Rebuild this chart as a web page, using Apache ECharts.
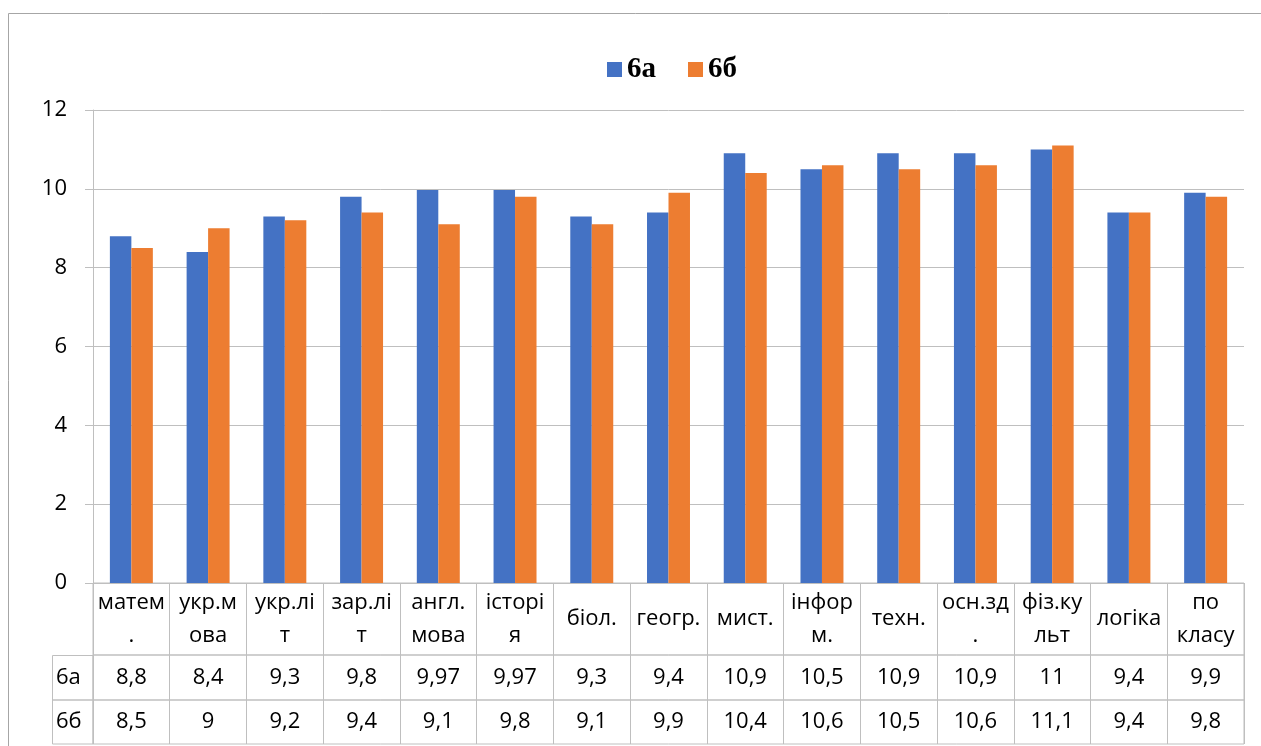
<!DOCTYPE html>
<html>
<head>
<meta charset="utf-8">
<script src="https://cdn.jsdelivr.net/npm/echarts@6/dist/echarts.min.js"></script>
<style>
html,body{margin:0;padding:0;background:#fff;}
#chart{width:1261px;height:746px;}
</style>
</head>
<body>
<div id="chart"></div>
<script>
// ---- data ----
var categories = ["матем\n.", "укр.м\nова", "укр.лі\nт", "зар.лі\nт", "англ.\nмова", "історі\nя", "біол.", "геогр.", "мист.", "інфор\nм.", "техн.", "осн.зд\n.", "фіз.ку\nльт", "логіка", "по\nкласу"];
var seriesNames = ["6а", "6б"];
var values6a = [8.8, 8.4, 9.3, 9.8, 9.97, 9.97, 9.3, 9.4, 10.9, 10.5, 10.9, 10.9, 11, 9.4, 9.9];
var values6b = [8.5, 9, 9.2, 9.4, 9.1, 9.8, 9.1, 9.9, 10.4, 10.6, 10.5, 10.6, 11.1, 9.4, 9.8];
var yTicks = [0, 2, 4, 6, 8, 10, 12];

// ---- styling ----
var FONT = "Open Sans";
var FS = 22;
var GRAY = "#bfbfbf";
var BLUE = "#4472C4";
var ORANGE = "#ED7D31";
var L = 93, R = 1261 - 1244;

function fmt(v) { return String(v).replace(".", ","); }

var chart = echarts.init(document.getElementById("chart"));

function tableAxes(idx, data, rowH, lineH) {
  return {
    gridIndex: idx, type: "category", data: data, boundaryGap: true,
    axisLine: { show: false }, axisTick: { show: false },
    splitLine: { show: true, interval: 0, lineStyle: { color: GRAY, width: 1 } },
    axisLabel: { interval: 0, margin: -rowH / 2, verticalAlign: "middle", align: "center",
      fontFamily: FONT, fontSize: FS, color: "#000", lineHeight: lineH }
  };
}
function rowYAxis(idx, name) {
  return {
    gridIndex: idx, type: "category", data: name ? [name] : [""],
    axisLine: { show: false }, axisTick: { show: false }, splitLine: { show: false },
    axisLabel: { show: !!name, align: "left", margin: 37, fontFamily: FONT, fontSize: FS, color: "#000" }
  };
}

var option = {
  backgroundColor: "#fff",
  animation: false,
  legend: {
    data: seriesNames, left: 602, top: 50, icon: "rect", itemWidth: 15, itemHeight: 15, itemGap: 32,
    textStyle: { fontFamily: "Liberation Serif", fontWeight: "bold", fontSize: 29, color: "#000" }
  },
  grid: [
    { left: L, right: R, top: 110, height: 473 },
    { left: L, right: R, top: 583, height: 72, show: true, borderColor: GRAY, borderWidth: 1 },
    { left: L, right: R, top: 655, height: 45, show: true, borderColor: GRAY, borderWidth: 1 },
    { left: L, right: R, top: 700, height: 44, show: true, borderColor: GRAY, borderWidth: 1 }
  ],
  xAxis: [
    { gridIndex: 0, type: "category", data: categories, boundaryGap: true,
      axisLine: { show: true, lineStyle: { color: GRAY } }, axisTick: { show: false }, axisLabel: { show: false } },
    tableAxes(1, categories, 72, 33),
    tableAxes(2, values6a.map(fmt), 45, 24),
    tableAxes(3, values6b.map(fmt), 44, 24)
  ],
  yAxis: [
    { gridIndex: 0, type: "value", min: yTicks[0], max: yTicks[yTicks.length - 1], interval: yTicks[1] - yTicks[0],
      axisLine: { show: true, lineStyle: { color: GRAY } },
      axisTick: { show: true, length: 8, lineStyle: { color: GRAY } },
      splitLine: { show: true, lineStyle: { color: GRAY, width: 1 } },
      axisLabel: { margin: 26, fontFamily: FONT, fontSize: FS, color: "#000" } },
    rowYAxis(1, ""),
    rowYAxis(2, seriesNames[0]),
    rowYAxis(3, seriesNames[1])
  ],
  graphic: [
    { type: "rect", silent: true, shape: { x: 8.5, y: 13.5, width: 1400, height: 900 },
      style: { fill: null, stroke: "#a6a6a6", lineWidth: 1 } },
    { type: "rect", silent: true, shape: { x: 52.5, y: 655.5, width: 40.5, height: 44.5 },
      style: { fill: null, stroke: GRAY, lineWidth: 1 } },
    { type: "rect", silent: true, shape: { x: 52.5, y: 700, width: 40.5, height: 44 },
      style: { fill: null, stroke: GRAY, lineWidth: 1 } }
  ],
  series: [
    { name: seriesNames[0], type: "bar", xAxisIndex: 0, yAxisIndex: 0, data: values6a,
      barWidth: "28%", barGap: "0%", itemStyle: { color: BLUE } },
    { name: seriesNames[1], type: "bar", xAxisIndex: 0, yAxisIndex: 0, data: values6b,
      barWidth: "28%", barGap: "0%", itemStyle: { color: ORANGE } }
  ]
};
chart.setOption(option);
</script>
</body>
</html>
